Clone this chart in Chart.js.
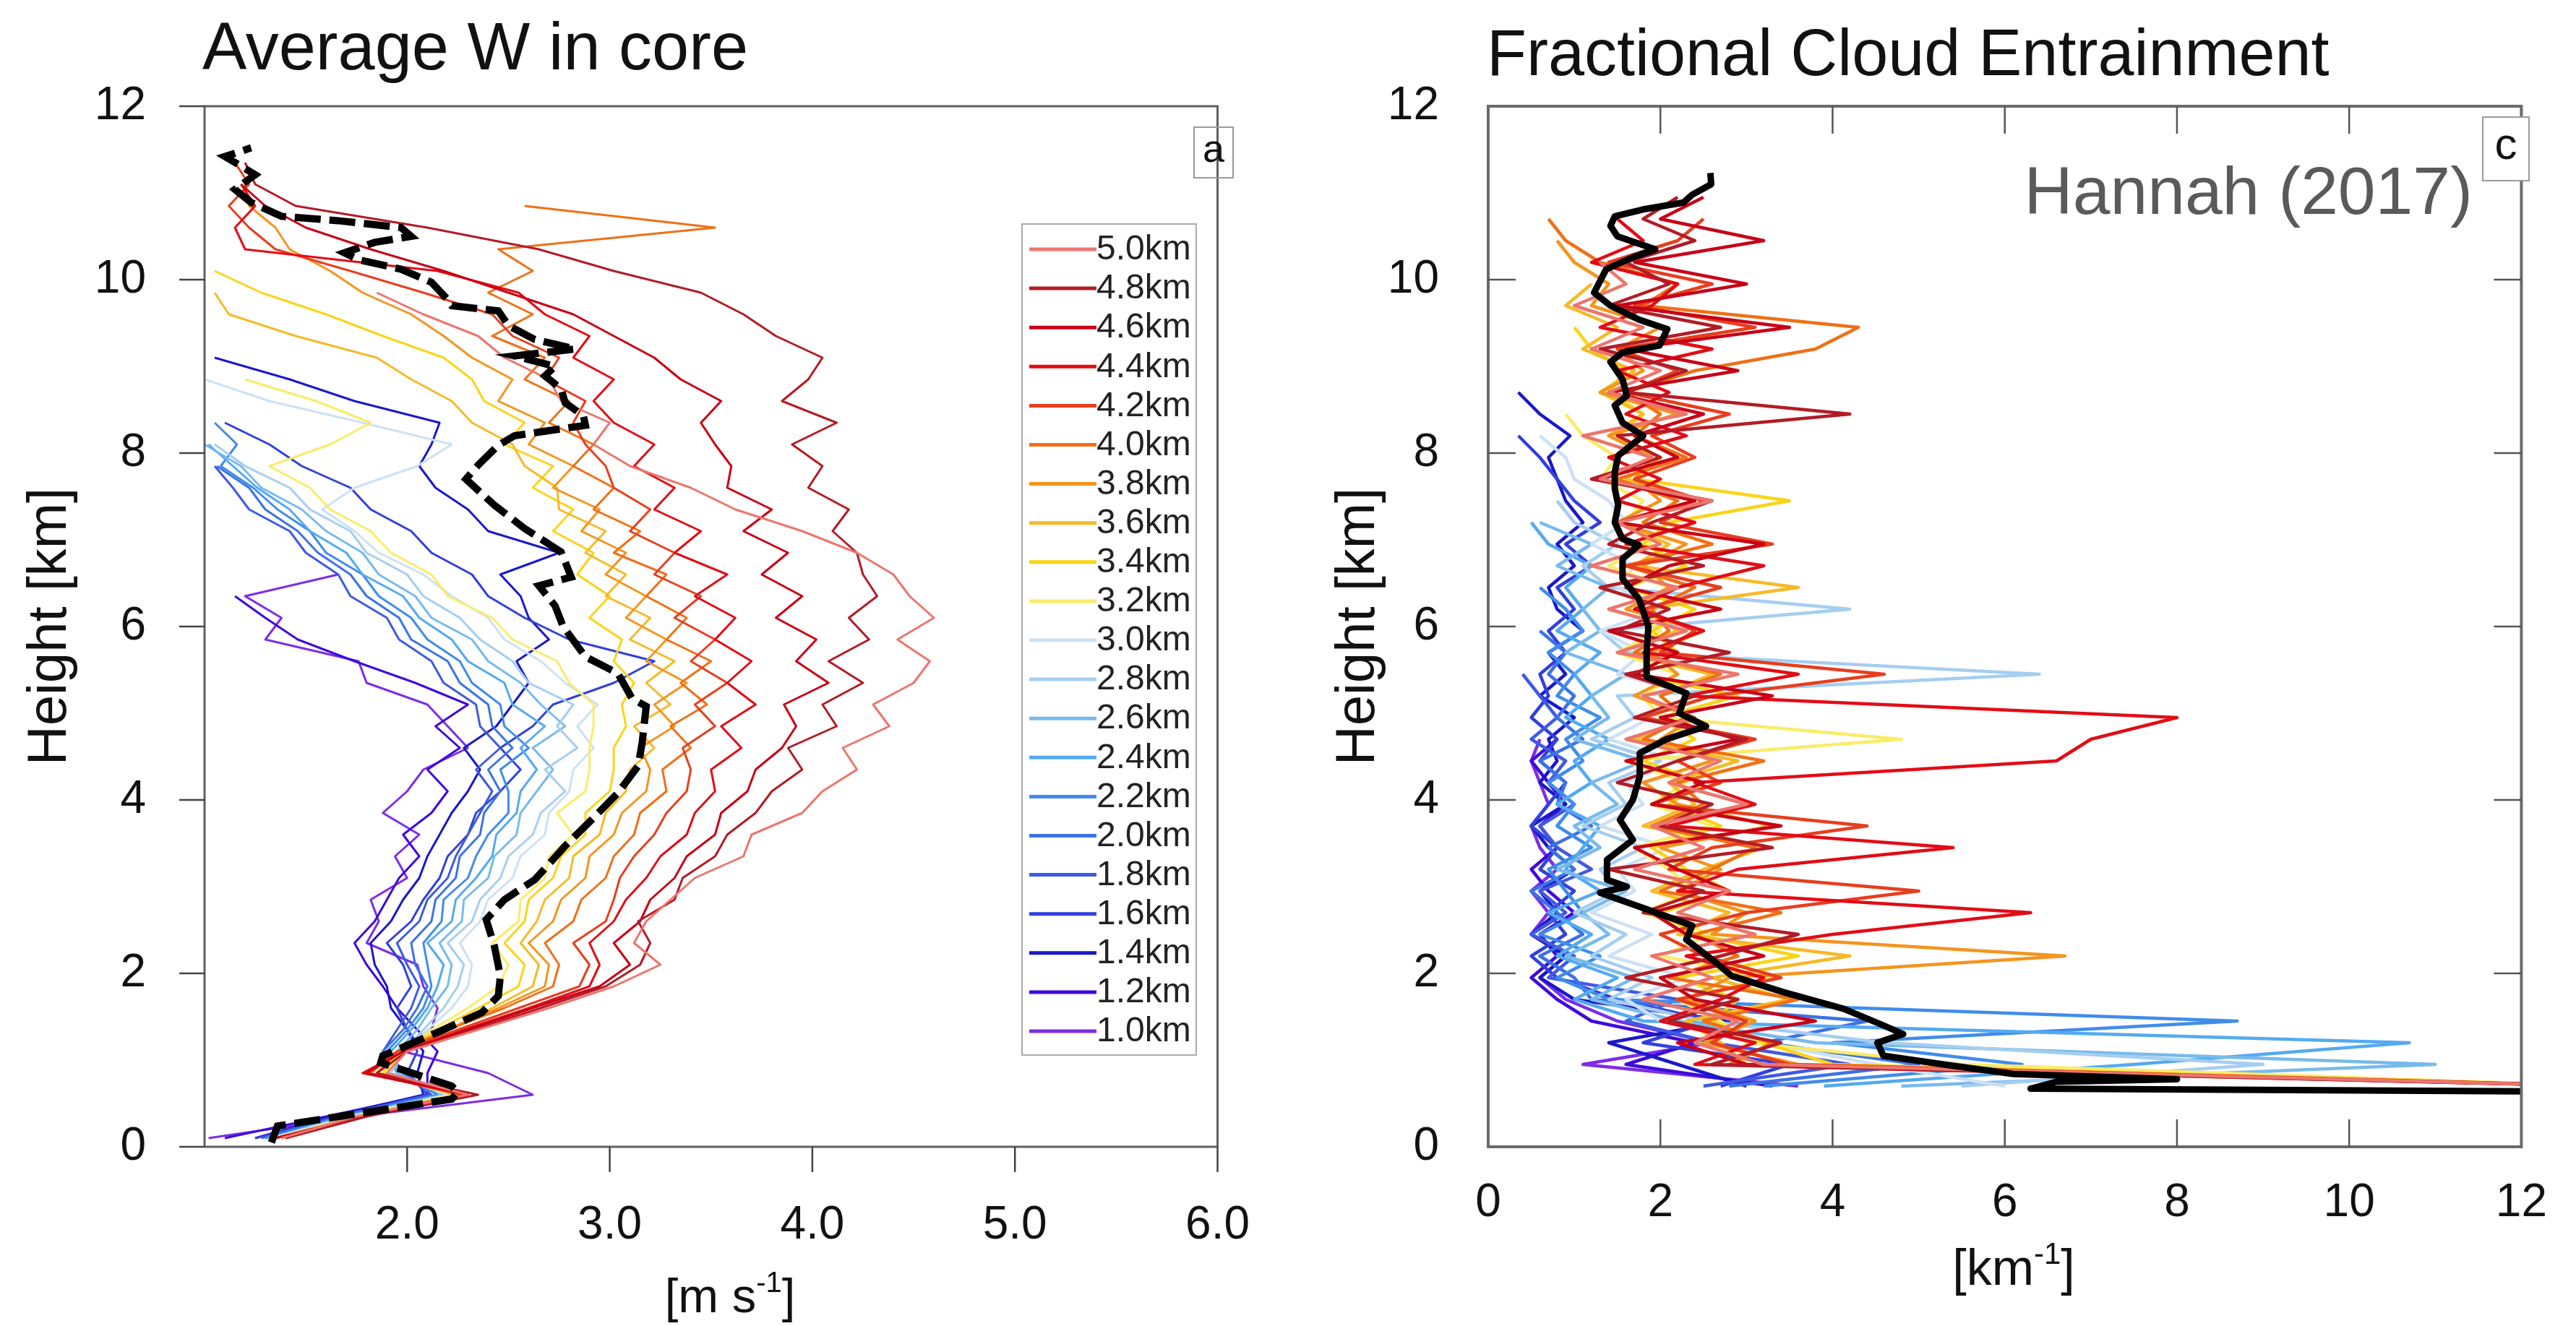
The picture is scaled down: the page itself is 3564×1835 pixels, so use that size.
<!DOCTYPE html>
<html>
<head>
<meta charset="utf-8">
<script src="https://cdn.jsdelivr.net/npm/chart.js@4/dist/chart.umd.min.js"></script>
<style>
  html, body { margin: 0; padding: 0; background: #fff; }
  #wrap { position: relative; width: 3564px; height: 1835px; }
  canvas { position: absolute; top: 0; }
</style>
</head>
<body>
<div id="wrap">
  <canvas id="chartA" width="1800" height="1835" style="left:0"></canvas>
  <canvas id="chartC" width="1764" height="1835" style="left:1800px"></canvas>
</div>
<script>
// cloud size classes (legend order) and their colours
const sizeLabels = ['5.0km','4.8km','4.6km','4.4km','4.2km','4.0km','3.8km','3.6km','3.4km','3.2km','3.0km',
                    '2.8km','2.6km','2.4km','2.2km','2.0km','1.8km','1.6km','1.4km','1.2km','1.0km'];
const sizeColors = ['rgb(235,118,110)','rgb(178,28,38)','rgb(200,0,22)','rgb(226,12,22)','rgb(232,62,30)',
                    'rgb(240,112,22)','rgb(245,148,30)','rgb(245,186,40)','rgb(250,212,24)','rgb(250,236,104)',
                    'rgb(205,225,245)','rgb(165,206,240)','rgb(120,186,236)','rgb(84,170,240)','rgb(64,140,235)',
                    'rgb(60,114,230)','rgb(64,90,225)','rgb(50,64,220)','rgb(26,24,200)','rgb(62,10,220)','rgb(125,45,230)'];

// panel a: average W in core [m/s] at these heights [km]
const heightsA = [0.1,0.35,0.6,0.85,1.1,1.35,1.6,1.85,2.1,2.35,2.6,2.85,3.1,3.35,3.6,3.85,4.1,4.35,4.6,4.85,
                  5.1,5.35,5.6,5.85,6.1,6.35,6.6,6.85,7.1,7.35,7.6,7.85,8.1,8.35,8.6,8.85,9.1,9.35,9.6,9.85,
                  10.1,10.35,10.6,10.85,11.1,11.35];
const w50 = [1.38,1.75,2.3,1.9,2.0,2.35,2.7,3.02,3.25,3.12,3.18,3.3,3.42,3.66,3.7,3.95,4.05,4.22,4.15,4.38,4.3,4.5,4.58,4.42,4.6,4.48,4.4,4.22,3.95,3.62,3.4,3.1,2.92,3.0,2.76,2.7,2.48,2.35,2.08,1.85];
const w48 = [1.4,1.8,2.35,1.85,2.0,2.33,2.66,2.98,3.15,3.2,3.14,3.32,3.36,3.52,3.58,3.72,3.8,3.95,3.88,4.12,4.05,4.25,4.08,4.28,4.18,4.32,4.25,4.22,4.1,4.18,3.98,4.05,3.9,4.12,3.85,3.98,4.05,3.82,3.66,3.45,3.02,2.65,2.1,1.45,1.25,1.2];
const w46 = [1.35,1.78,2.3,1.8,1.98,2.3,2.62,2.95,3.1,3.02,3.15,3.2,3.32,3.38,3.52,3.55,3.68,3.72,3.85,3.92,3.86,4.08,3.92,4.02,3.82,3.95,3.75,3.88,3.66,3.8,3.58,3.6,3.52,3.45,3.55,3.35,3.22,3.02,2.82,2.5,2.18,1.82,1.5,1.3,1.18];
const w44 = [1.4,1.8,2.3,1.78,1.98,2.28,2.6,2.9,2.95,2.9,3.02,3.08,3.18,3.25,3.38,3.42,3.52,3.5,3.65,3.55,3.72,3.58,3.7,3.52,3.62,3.42,3.58,3.32,3.45,3.22,3.32,3.12,3.22,3.02,2.92,3.02,2.82,2.9,2.68,2.55,2.15,1.2,1.15,1.25,1.18];
const w42 = [1.35,1.78,2.28,1.8,1.95,2.25,2.55,2.85,2.9,2.82,2.98,3.02,3.05,3.12,3.22,3.28,3.38,3.4,3.36,3.52,3.42,3.58,3.4,3.52,3.32,3.45,3.22,3.32,3.1,3.2,3.02,2.98,2.88,2.82,2.88,2.68,2.75,2.52,2.42,2.08,1.72,1.35,1.22,1.12,1.22,1.15];
const w40 = [1.38,1.8,2.25,1.82,1.95,2.2,2.48,2.72,2.75,2.68,2.82,2.86,2.98,3.02,3.12,3.15,3.28,3.26,3.4,3.3,3.48,3.35,3.5,3.28,3.38,3.18,3.28,3.02,3.15,2.92,3.02,2.82,2.92,2.7,2.8,2.58,2.68,2.42,2.62,2.4,2.62,2.45,3.52,2.58];
const w38 = [1.35,1.78,2.25,1.85,1.95,2.2,2.45,2.68,2.7,2.6,2.72,2.76,2.88,2.9,3.02,3.06,3.18,3.2,3.15,3.32,3.22,3.38,3.18,3.28,3.08,3.18,2.98,3.08,2.86,2.95,2.72,2.82,2.6,2.68,2.45,2.52,2.32,2.18,2.02,1.78,1.62,1.42,1.35,1.22,1.2];
const w36 = [1.35,1.75,2.25,1.85,1.98,2.2,2.42,2.62,2.65,2.56,2.64,2.68,2.8,2.82,2.95,2.98,3.08,3.1,3.22,3.12,3.3,3.18,3.32,3.1,3.2,2.98,3.08,2.88,2.98,2.75,2.74,2.58,2.52,2.32,2.22,2.02,1.85,1.45,1.12,1.05];
const w34 = [1.35,1.78,2.25,1.88,1.98,2.15,2.35,2.55,2.58,2.48,2.58,2.6,2.72,2.76,2.88,2.88,3.0,3.02,3.02,3.08,3.06,3.12,3.02,3.06,2.9,3.0,2.84,2.92,2.72,2.82,2.62,2.72,2.48,2.58,2.38,2.32,2.18,1.88,1.6,1.28,1.05];
const w32 = [1.35,1.75,2.22,1.9,1.98,2.12,2.3,2.45,2.5,2.42,2.55,2.56,2.68,2.7,2.82,2.74,2.88,2.9,2.9,2.92,2.92,2.8,2.74,2.52,2.42,2.2,2.12,1.92,1.82,1.62,1.52,1.32,1.62,1.82,1.55,1.2];
const w30 = [1.33,1.72,2.2,1.9,1.98,2.1,2.22,2.3,2.32,2.26,2.36,2.4,2.52,2.56,2.68,2.7,2.8,2.82,2.92,2.84,2.94,2.78,2.66,2.48,2.4,2.22,2.08,1.86,1.74,1.58,1.74,2.05,2.22,1.78,1.32,1.0];
const w28 = [1.33,1.72,2.2,1.92,1.98,2.08,2.18,2.25,2.28,2.2,2.32,2.36,2.46,2.5,2.62,2.66,2.78,2.68,2.84,2.74,2.82,2.6,2.52,2.36,2.26,2.08,2.0,1.8,1.72,1.52,1.42,1.2,1.05];
const w26 = [1.33,1.7,2.18,1.95,1.95,2.05,2.12,2.2,2.22,2.16,2.27,2.28,2.4,2.43,2.54,2.56,2.64,2.72,2.62,2.78,2.66,2.56,2.4,2.32,2.12,2.04,1.86,1.78,1.6,1.48,1.28,1.18,1.0];
const w24 = [1.32,1.7,2.18,1.95,1.92,2.02,2.1,2.15,2.18,2.1,2.22,2.24,2.34,2.42,2.44,2.54,2.56,2.64,2.56,2.68,2.52,2.48,2.3,2.22,2.06,1.98,1.78,1.7,1.52,1.42,1.26,1.14,1.02];
const w22 = [1.3,1.68,2.15,1.95,1.9,2.0,2.08,2.12,2.1,2.08,2.17,2.18,2.3,2.34,2.4,2.5,2.5,2.46,2.6,2.48,2.46,2.32,2.26,2.1,2.02,1.86,1.78,1.6,1.52,1.36,1.24,1.08,1.16,1.05];
const w20 = [1.3,1.68,2.15,1.98,1.88,1.98,2.05,2.1,2.04,2.02,2.12,2.14,2.24,2.26,2.36,2.38,2.46,2.4,2.52,2.42,2.4,2.26,2.2,2.02,1.96,1.8,1.72,1.56,1.46,1.3,1.22,1.06];
const w18 = [1.28,1.65,2.12,2.0,1.88,1.95,2.02,2.06,2.0,1.95,2.06,2.1,2.2,2.24,2.3,2.36,2.42,2.34,2.46,2.36,2.34,2.18,2.12,1.96,1.9,1.72,1.66,1.5,1.42,1.22,1.14,1.05];
const w16 = [1.25,1.65,2.1,2.0,2.05,2.0,1.95,2.02,1.98,1.9,2.02,2.08,2.16,2.2,2.3,2.34,2.46,2.56,2.46,2.62,2.72,3.02,3.22,2.8,2.58,2.4,2.32,2.12,2.02,1.82,1.72,1.48,1.32,1.1];
const w14 = [1.25,1.62,2.08,2.05,2.08,2.0,1.92,1.9,1.84,1.82,1.92,1.98,2.06,2.1,2.16,2.22,2.3,2.36,2.28,2.44,2.52,2.6,2.54,2.7,2.6,2.56,2.46,2.75,2.4,2.3,2.14,2.06,2.12,2.16,1.74,1.42,1.05];
const w12 = [1.1,1.6,2.1,2.1,2.15,2.05,1.95,1.88,1.8,1.74,1.84,1.9,1.96,2.06,1.98,2.12,2.2,2.1,2.26,2.14,2.3,2.04,1.74,1.46,1.3,1.15];
const w10 = [1.02,1.75,2.62,2.4,1.98,2.12,2.15,2.08,2.05,1.8,1.86,1.82,2.0,1.94,2.06,1.88,2.0,2.08,2.3,2.2,2.1,1.8,1.76,1.3,1.38,1.2,1.66];
// panel a: mean profile (black dashed)
const meanHeightsA = [0.05,0.24,0.55,0.63,0.7,0.97,1.05,1.32,1.55,1.74,1.97,2.32,2.62,2.85,3.08,3.47,3.77,4.08,4.39,4.66,
                      5.08,5.17,5.46,5.65,6.0,6.24,6.47,6.57,6.86,7.13,7.4,7.7,7.86,8.09,8.2,8.32,8.43,8.58,8.74,8.89,
                      9.0,9.12,9.2,9.31,9.47,9.64,9.7,9.77,9.97,10.12,10.23,10.31,10.43,10.5,10.6,10.68,10.73,10.89,11.04,11.21,
                      11.31,11.42,11.52];
const meanW = [1.33,1.36,2.22,2.25,2.22,1.87,1.88,2.15,2.37,2.45,2.46,2.43,2.39,2.48,2.63,2.78,2.91,3.04,3.14,3.16,
               3.18,3.11,3.04,2.88,2.77,2.73,2.65,2.81,2.76,2.58,2.43,2.29,2.35,2.45,2.53,2.88,2.87,2.78,2.76,2.68,
               2.73,2.53,2.83,2.63,2.5,2.45,2.22,2.2,2.12,1.97,1.76,1.69,1.84,2.02,1.97,1.66,1.38,1.23,1.15,1.25,
               1.18,1.1,1.23];

// panel c: fractional cloud entrainment [1/km] at these heights [km]
const heightsC = [0.7,0.95,1.2,1.45,1.7,1.95,2.2,2.45,2.7,2.95,3.2,3.45,3.7,3.95,4.2,4.45,4.7,4.95,5.2,5.45,
                  5.7,5.95,6.2,6.45,6.7,6.95,7.2,7.45,7.7,7.95,8.2,8.45,8.7,8.95,9.2,9.45,9.7,9.95,10.2,10.45,
                  10.7,10.95];
const e50 = [13,3.2,2.4,2.9,1.8,2.6,1.9,3.1,2.2,2.8,1.7,2.5,1.9,3.0,2.1,2.7,1.6,2.4,1.8,2.9,1.5,2.3,1.4,2.2,1.2,2.0,1.5,2.6,1.3,1.9,1.1,2.3,1.4,2.0,1.2,1.8,1.0,1.6,1.3];
const e48 = [13,2.6,3.4,2.1,2.9,1.6,2.7,3.6,1.8,2.5,1.4,3.3,2.0,2.6,1.5,2.2,3.0,1.7,2.4,1.6,2.8,1.5,2.1,1.3,2.5,1.4,1.9,2.6,1.2,2.0,1.5,4.2,1.6,2.3,1.3,2.7,1.4,2.1,1.6,2.4,1.8,2.2];
const e46 = [13,3.0,2.2,3.8,2.4,2.0,3.2,2.3,1.9,2.8,2.2,1.7,3.4,1.9,2.5,1.6,2.9,2.0,3.3,1.7,2.2,1.4,2.7,1.6,2.1,3.2,1.5,2.4,1.3,2.2,1.7,2.5,1.4,2.9,1.6,3.5,1.5,3.0,1.7,3.2,2.0,2.5];
const e44 = [13,2.4,3.1,2.0,2.7,3.2,2.3,4.0,6.3,2.2,2.9,5.4,2.1,3.1,2.4,6.6,7.0,8.0,2.3,3.6,1.8,2.5,1.7,2.2,3.2,1.6,2.4,1.5,2.0,1.4,2.3,1.6,2.1,1.5,2.6,1.3,1.9,2.2,1.2,1.8,1.5];
const e42 = [13,3.5,2.6,3.0,2.2,3.4,2.5,2.0,3.0,5.0,2.1,2.6,4.4,1.9,2.7,2.2,3.1,1.8,2.6,4.6,2.0,2.4,1.8,2.7,1.6,3.3,2.0,2.5,1.7,2.4,1.9,2.8,1.6,2.2,1.5,3.1,1.7,2.6,1.4,2.2,2.5];
const e40 = [13,2.8,3.3,2.5,3.6,2.1,2.9,2.4,3.4,2.0,2.6,3.1,1.9,2.5,2.2,3.2,1.8,2.3,2.0,2.7,1.7,2.1,1.9,2.4,1.6,2.6,1.8,2.2,1.5,2.3,1.7,2.0,1.6,2.4,3.8,4.3,1.8,2.2,1.3,0.9,0.7];
const e38 = [13,3.6,2.5,3.1,2.3,2.8,6.7,2.6,3.0,2.2,2.7,2.0,3.3,2.2,1.8,2.6,2.0,2.4,1.7,2.2,1.9,2.5,1.6,2.1,1.8,2.3,1.5,2.0,1.7,1.9,1.4,2.2,1.3,1.8,1.5,2.0,1.2,1.4,1.0,0.8];
const e36 = [13,3.0,2.7,2.3,3.5,2.6,4.2,2.2,2.8,1.9,2.5,3.2,1.8,2.4,2.1,2.9,1.7,2.3,2.0,2.6,1.5,2.2,1.8,3.6,1.7,2.1,1.5,2.4,1.6,2.0,1.4,1.8,1.3,1.7,1.1,1.5,0.9,1.2];
const e34 = [13,4.0,3.2,2.6,2.9,2.2,3.6,2.4,2.0,2.8,2.3,1.9,2.7,2.1,2.5,1.8,2.4,2.0,2.9,1.7,2.2,1.9,2.4,1.6,2.3,1.8,2.1,3.5,1.7,2.0,1.5,1.8,1.4,1.6,1.2,1.0];
const e32 = [13,5.5,3.0,2.7,2.2,3.3,2.0,2.6,1.8,2.4,2.1,1.7,2.6,1.9,2.3,1.6,4.8,2.0,1.8,2.2,1.5,2.0,1.7,2.1,1.4,1.9,1.6,1.8,1.3,1.5,1.1,0.9];
const e30 = [6.0,4.5,3.2,2.0,1.6,2.3,1.4,1.9,1.2,1.7,1.5,2.1,1.3,1.8,1.6,2.2,1.4,1.9,2.4,1.5,1.8,1.3,2.0,1.5,1.7,1.2,1.6,1.4,1.0,0.9,0.6];
const e28 = [5.5,9.0,4.6,2.5,1.4,1.9,1.2,1.6,1.0,1.5,1.3,1.8,1.1,1.6,1.4,2.0,1.2,1.7,1.5,6.4,1.6,1.3,4.2,1.4,1.1,1.5,1.0,0.8];
const e26 = [4.8,11.0,3.8,2.2,1.2,1.7,0.9,1.4,1.1,1.6,0.8,1.3,1.0,1.5,1.2,1.8,1.0,1.4,1.2,1.6,0.9,1.3,1.1,1.4,0.8,1.2,0.6];
const e24 = [3.9,7.5,10.7,1.8,1.0,1.5,0.8,1.2,0.7,1.3,0.9,1.1,1.3,0.8,1.2,1.0,1.4,0.9,1.2,1.0,1.3,0.8,1.1,0.9,1.2,0.7,0.5];
const e22 = [3.2,6.2,4.0,8.7,1.4,0.8,1.3,0.6,1.1,0.9,0.7,1.2,0.8,1.0,0.7,1.1,0.9,1.3,0.8,1.0,0.7,1.1,0.9,0.6];
const e20 = [2.8,5.0,3.2,4.4,1.2,1.0,0.6,1.1,0.8,0.5,1.0,0.7,1.2,0.8,0.9,0.6,1.1,0.8,1.0,0.7,0.9,0.6];
const e18 = [2.5,4.2,2.6,1.6,2.2,0.7,1.0,0.5,0.9,0.6,1.2,0.8,0.6,1.0,0.7,0.9,0.5,0.8,0.6,0.4];
const e16 = [2.7,3.5,1.8,2.6,1.5,0.8,0.5,0.9,0.7,1.0,0.6,0.8,0.5,0.7,0.9,0.6,0.8,0.5,0.7,0.6,0.9,0.7,1.0,0.8,1.2,0.9,1.3,1.0,0.8,0.6,0.35];
const e14 = [3.0,2.2,1.4,2.8,1.0,0.6,0.9,0.5,0.8,0.6,1.0,0.7,0.5,0.9,0.6,0.8,0.7,1.0,0.6,0.9,0.7,1.1,0.8,0.7,1.0,0.8,1.1,0.9,0.8,0.7,0.95,0.6,0.35];
const e12 = [3.3,1.6,2.4,1.2,0.8,0.5,0.8,0.6,1.0,0.7,0.5,0.8,0.6,0.9,0.7,0.5,0.8];
const e10 = [3.6,1.1,2.6,1.5,0.9,0.6,0.9,0.5,0.7,0.5,0.8,0.6,0.5,0.7,0.6,0.5,0.6];
// panel c: mean profile (black solid)
const meanHeightsC = [0.63,0.67,0.75,0.78,0.84,0.94,1.05,1.2,1.3,1.4,1.59,1.78,1.97,2.16,2.39,2.55,2.74,2.93,3.0,3.08,
                      3.31,3.54,3.77,4.0,4.27,4.54,4.7,4.85,5.0,5.23,5.42,5.69,6.0,6.32,6.55,6.78,6.94,7.01,7.2,7.4,
                      7.59,7.78,7.97,8.09,8.2,8.35,8.55,8.66,8.85,9.05,9.16,9.24,9.43,9.54,9.7,9.85,10.12,10.25,10.35,10.5,
                      10.62,10.73,10.81,10.89,10.98,11.1,11.23];
const meanE = [14,6.3,6.6,8.0,6.1,5.36,4.59,4.52,4.82,4.59,4.13,3.44,2.83,2.6,2.3,2.37,1.84,1.3,1.61,1.38,
               1.38,1.68,1.53,1.68,1.76,1.76,2.07,2.53,2.22,2.3,1.84,1.84,1.86,1.75,1.56,1.56,1.75,1.56,1.47,1.51,
               1.47,1.47,1.51,1.66,1.8,1.56,1.47,1.61,1.56,1.42,1.56,1.99,2.08,1.75,1.42,1.23,1.37,1.66,1.94,1.5,
               1.42,1.47,1.8,2.27,2.37,2.59,2.58];

const wSeries = [w50,w48,w46,w44,w42,w40,w38,w36,w34,w32,w30,w28,w26,w24,w22,w20,w18,w16,w14,w12,w10];
const eSeries = [e50,e48,e46,e44,e42,e40,e38,e36,e34,e32,e30,e28,e26,e24,e22,e20,e18,e16,e14,e12,e10];

const FONT = '"Liberation Sans", Arial, Helvetica, sans-serif';

function toPoints(values, heights) {
  return values.map((v, i) => ({ x: v, y: heights[i] }));
}

function buildDatasets(series, heights, meanVals, meanHeights, lineW, meanStyle) {
  const sets = [Object.assign({
    label: 'mean',
    data: toPoints(meanVals, meanHeights),
    borderColor: '#000',
    pointRadius: 0,
    fill: false,
    tension: 0
  }, meanStyle)];
  series.forEach((s, k) => {
    sets.push({
      label: sizeLabels[k],
      data: toPoints(s, heights),
      borderColor: sizeColors[k],
      borderWidth: lineW,
      borderJoinStyle: 'round',
      pointRadius: 0,
      fill: false,
      tension: 0
    });
  });
  return sets;
}

function line(ctx, x1, y1, x2, y2) {
  ctx.beginPath(); ctx.moveTo(x1, y1); ctx.lineTo(x2, y2); ctx.stroke();
}

// "[m s^-1]" style label with a small raised part
function unitLabel(ctx, cx, base, size, pre, sup, post) {
  const supSize = Math.round(size * 0.6);
  ctx.font = size + 'px ' + FONT;
  const w1 = ctx.measureText(pre).width;
  const w3 = ctx.measureText(post).width;
  ctx.font = supSize + 'px ' + FONT;
  const w2 = ctx.measureText(sup).width;
  let x = cx - (w1 + w2 + w3) / 2;
  ctx.textAlign = 'left';
  ctx.textBaseline = 'alphabetic';
  ctx.font = size + 'px ' + FONT;
  ctx.fillText(pre, x, base);
  x += w1;
  ctx.font = supSize + 'px ' + FONT;
  ctx.fillText(sup, x, base - size * 0.42);
  x += w2;
  ctx.font = size + 'px ' + FONT;
  ctx.fillText(post, x, base);
}

function vTitle(ctx, text, cx, cy, size) {
  ctx.save();
  ctx.translate(cx, cy);
  ctx.rotate(-Math.PI / 2);
  ctx.font = size + 'px ' + FONT;
  ctx.textAlign = 'center';
  ctx.textBaseline = 'middle';
  ctx.fillText(text, 0, 0);
  ctx.restore();
}

const overlayA = {
  id: 'overlayA',
  afterDraw(chart) {
    const { ctx, chartArea: a, scales } = chart;
    ctx.save();
    ctx.fillStyle = '#111';
    // frame and outward ticks
    ctx.strokeStyle = '#606060';
    ctx.lineWidth = 3;
    ctx.strokeRect(a.left, a.top, a.right - a.left, a.bottom - a.top);
    ctx.strokeStyle = '#444';
    ctx.lineWidth = 2.5;
    scales.y.ticks.forEach(t => {
      const p = scales.y.getPixelForValue(t.value);
      line(ctx, a.left - 35, p, a.left, p);
    });
    scales.x.ticks.forEach(t => {
      if (t.value <= 1) return;
      const p = scales.x.getPixelForValue(t.value);
      line(ctx, p, a.bottom, p, a.bottom + 35);
    });
    // title and axis titles
    ctx.font = '92px ' + FONT;
    ctx.textAlign = 'left';
    ctx.textBaseline = 'alphabetic';
    ctx.fillText('Average W in core', 280, 96);
    vTitle(ctx, 'Height [km]', 70, 867, 76);
    unitLabel(ctx, 1010, 1816, 67, '[m s', '-1', ']');
    // panel tag
    ctx.strokeStyle = '#9a9a9a';
    ctx.lineWidth = 2;
    ctx.strokeRect(1652, 176, 54, 70);
    ctx.font = '54px ' + FONT;
    ctx.textAlign = 'center';
    ctx.textBaseline = 'middle';
    ctx.fillText('a', 1679, 209);
    // legend
    ctx.fillStyle = '#fff';
    ctx.fillRect(1414, 310, 241, 1150);
    ctx.strokeStyle = '#aaa';
    ctx.strokeRect(1414, 310, 241, 1150);
    const sets = chart.data.datasets.slice(1);
    ctx.font = '48px ' + FONT;
    ctx.textAlign = 'left';
    ctx.textBaseline = 'middle';
    sets.forEach((ds, i) => {
      const y = 345 + 54.1 * i;
      ctx.strokeStyle = ds.borderColor;
      ctx.lineWidth = 5;
      line(ctx, 1424, y, 1517, y);
      ctx.fillStyle = '#222';
      ctx.fillText(ds.label, 1517, y + 1);
    });
    ctx.restore();
  }
};

const overlayC = {
  id: 'overlayC',
  afterDraw(chart) {
    const { ctx, chartArea: a, scales } = chart;
    ctx.save();
    ctx.fillStyle = '#111';
    ctx.strokeStyle = '#6a6a6a';
    ctx.lineWidth = 4;
    ctx.strokeRect(a.left, a.top, a.right - a.left, a.bottom - a.top);
    // inward ticks on all four sides
    ctx.strokeStyle = '#555';
    ctx.lineWidth = 2.5;
    scales.y.ticks.forEach(t => {
      if (t.value <= 0 || t.value >= 12) return;
      const p = scales.y.getPixelForValue(t.value);
      line(ctx, a.left, p, a.left + 38, p);
      line(ctx, a.right - 38, p, a.right, p);
    });
    scales.x.ticks.forEach(t => {
      if (t.value <= 0 || t.value >= 12) return;
      const p = scales.x.getPixelForValue(t.value);
      line(ctx, p, a.bottom, p, a.bottom - 38);
      line(ctx, p, a.top, p, a.top + 38);
    });
    ctx.font = '90px ' + FONT;
    ctx.textAlign = 'left';
    ctx.textBaseline = 'alphabetic';
    ctx.fillText('Fractional Cloud Entrainment', 257, 104);
    vTitle(ctx, 'Height [km]', 80, 867, 76);
    unitLabel(ctx, 986, 1778, 70, '[km', '-1', ']');
    // source note and panel tag
    ctx.fillStyle = '#5a5a5a';
    ctx.font = '93px ' + FONT;
    ctx.textAlign = 'right';
    ctx.fillText('Hannah (2017)', 1621, 296);
    ctx.fillStyle = '#fff';
    ctx.fillRect(1635, 162, 64, 88);
    ctx.strokeStyle = '#9a9a9a';
    ctx.lineWidth = 2;
    ctx.strokeRect(1635, 162, 64, 88);
    ctx.fillStyle = '#111';
    ctx.font = '62px ' + FONT;
    ctx.textAlign = 'center';
    ctx.textBaseline = 'middle';
    ctx.fillText('c', 1667, 203);
    ctx.restore();
  }
};

function panelOptions(cfg) {
  return {
    responsive: false,
    animation: false,
    devicePixelRatio: 1,
    layout: { padding: { left: 0, top: 147, right: cfg.padRight, bottom: 48 } },
    plugins: { legend: { display: false }, tooltip: { enabled: false }, title: { display: false } },
    scales: {
      x: {
        type: 'linear',
        min: cfg.xMin, max: cfg.xMax,
        grid: { display: false, drawTicks: false },
        border: { display: false },
        ticks: {
          stepSize: cfg.xStep,
          autoSkip: false,
          maxRotation: 0,
          padding: cfg.xPad,
          color: '#111',
          font: { family: FONT, size: 64 },
          callback: cfg.xFmt
        },
        afterFit(s) { s.height = 200; }
      },
      y: {
        type: 'linear',
        min: 0, max: 12,
        grid: { display: false, drawTicks: false },
        border: { display: false },
        ticks: {
          stepSize: 2,
          autoSkip: false,
          padding: cfg.yPad,
          color: '#111',
          font: { family: FONT, size: 64 },
          callback: v => String(v)
        },
        afterFit(s) { s.width = cfg.yWidth; }
      }
    }
  };
}

new Chart(document.getElementById('chartA'), {
  type: 'line',
  data: {
    datasets: buildDatasets(wSeries, heightsA, meanW, meanHeightsA, 3,
      { borderWidth: 10, borderDash: [36, 12], borderCapStyle: 'butt' })
  },
  options: panelOptions({
    xMin: 1, xMax: 6, xStep: 1, padRight: 76, xPad: 71, yPad: 81, yWidth: 283,
    xFmt: v => (v === 1 ? '' : v.toFixed(1))
  }),
  plugins: [overlayA]
});

new Chart(document.getElementById('chartC'), {
  type: 'line',
  data: {
    datasets: buildDatasets(eSeries, heightsC, meanE, meanHeightsC, 4.5,
      { borderWidth: 9, borderJoinStyle: 'round' })
  },
  options: panelOptions({
    xMin: 0, xMax: 12, xStep: 2, padRight: 53, xPad: 40, yPad: 68, yWidth: 259,
    xFmt: v => String(v)
  }),
  plugins: [overlayC]
});
</script>
</body>
</html>
